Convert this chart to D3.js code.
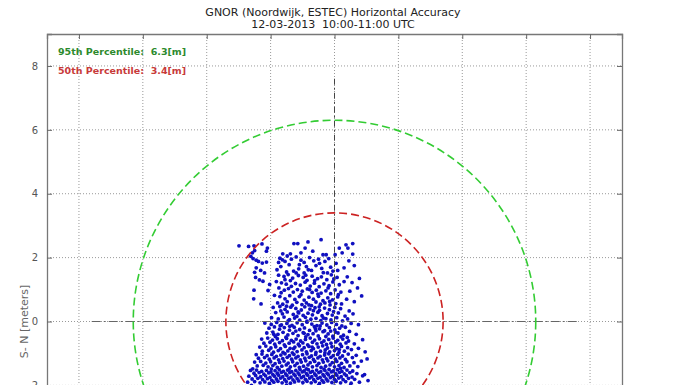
<!DOCTYPE html>
<html>
<head>
<meta charset="utf-8">
<script src="https://cdn.jsdelivr.net/npm/d3@7"></script>
<style>
  body { margin: 0; background: #fff; }
  svg { display: block; }
  text { font-family: "DejaVu Sans", Verdana, sans-serif; }
</style>
</head>
<body>
<div class="main"></div>
<script>
// tick values on both axes (meters)
let tickValues = [-8, -6, -4, -2, 0, 2, 4, 6, 8];

// percentile radii
let percentileNames = ['95th Percentile:', '50th Percentile:'];
let percentileValues = [6.3, 3.4];

let titleLines = ['GNOR (Noordwijk, ESTEC) Horizontal Accuracy', '12-03-2013  10:00-11:00 UTC'];

// position fixes, [W-E, S-N] in meters
let fixes = [
  [-2.99,2.37],[-2.69,2.35],[-2.52,2.37],[-2.27,2.43],[-2.10,2.30],[-2.13,2.20],[-2.50,2.22],[-2.57,2.15],[-1.27,2.44],[-1.15,2.44],
  [-0.83,2.49],[-0.42,2.56],[0.36,2.40],[0.57,2.44],[0.42,2.30],[-0.92,2.30],[-0.36,2.09],[-0.26,2.09],[0.02,2.09],[0.24,2.15],[0.57,2.11],
  [-2.62,2.04],[-2.55,1.97],[-2.45,1.92],[-2.38,1.88],[-2.26,1.83],[-2.13,1.86],[-2.45,1.68],[-2.31,1.60],[-2.50,1.54],[-2.19,1.52],
  [-1.62,2.12],[-1.48,2.05],[-1.71,1.98],[-1.35,1.95],[-1.55,1.88],[-1.20,2.02],[-1.05,1.92],[-1.42,1.78],[-1.68,1.72],[-0.95,1.85],
  [-0.78,2.00],[-0.65,1.90],[-0.50,1.95],[-0.88,1.72],[-0.58,1.75],[-0.30,1.88],[-0.18,1.97],[-1.12,1.65],[-1.28,1.58],[-0.72,1.60],
  [-0.40,1.66],[-0.12,1.70],[-1.50,1.55],[-0.95,1.52],[0.05,1.82],[0.10,1.60],[0.45,1.90],[0.62,1.75],[-1.80,1.62],[-0.22,1.52],[0.30,1.68],
  [-1.63,1.93],[-1.38,2.12],[-1.10,1.78],[-0.82,1.62],[-0.47,1.82],[-0.05,1.58],[-1.75,1.85],[-0.68,2.20],[-1.05,2.15],[0.15,2.30],
  [-2.47,1.38],[-2.24,1.26],[-2.03,1.16],[-2.52,0.98],[-2.53,0.71],[-2.08,0.97],[-2.30,0.55],[-2.35,1.30],
  [-1.75,1.45],[-1.58,1.41],[-1.45,1.47],[-1.31,1.36],[-1.13,1.44],[-0.98,1.38],[-0.86,1.29],[-0.70,1.42],[-0.53,1.34],[-0.41,1.40],[-0.24,1.31],[-0.10,1.46],[0.08,1.38],
  [-1.82,1.25],[-1.66,1.21],[-1.51,1.17],[-1.38,1.28],[-1.22,1.19],[-1.07,1.14],[-0.92,1.23],[-0.76,1.11],[-0.63,1.20],[-0.48,1.09],[-0.33,1.18],[-0.17,1.12],[-0.05,1.24],[0.15,1.15],
  [-1.55,1.31],[-1.20,1.52],[-0.90,1.45],[-0.62,1.28],[-0.35,1.53],[-0.02,1.33],
  [-1.74,1.05],[-1.57,0.98],[-1.44,1.03],[-1.29,0.92],[-1.16,1.00],[-1.01,0.95],[-0.85,1.02],[-0.70,0.91],[-0.57,0.98],[-0.42,0.89],[-0.27,0.96],[-0.12,0.87],[0.02,0.99],[0.20,0.92],
  [-1.67,0.90],[-1.35,1.10],[-1.05,0.84],[-0.78,1.00],[-0.52,0.86],[-0.20,1.05],[0.12,0.84],
  [-1.88,0.82],[-1.71,0.78],[-1.55,0.71],[-1.40,0.81],[-1.24,0.69],[-1.10,0.78],[-0.95,0.67],[-0.80,0.76],[-0.66,0.70],[-0.50,0.79],[-0.36,0.65],[-0.21,0.74],[-0.06,0.68],[0.10,0.77],
  [-1.78,0.58],[-1.62,0.54],[-1.48,0.62],[-1.32,0.51],[-1.18,0.60],[-1.02,0.53],[-0.88,0.58],[-0.72,0.50],[-0.58,0.61],[-0.44,0.54],[-0.30,0.58],[-0.14,0.52],[0.04,0.56],
  [0.40,1.40],[0.55,1.22],[0.72,1.05],[0.48,0.95],[0.85,0.80],[0.38,0.70],[0.62,0.62],[0.30,1.25],[0.78,1.35],
  [-1.92,0.44],[-1.71,0.47],[-1.55,0.38],[-1.37,0.45],[-1.21,0.41],[-1.04,0.36],[-0.93,0.46],[-0.77,0.39],[-0.61,0.43],[-0.47,0.35],[-0.31,0.42],[-0.16,0.37],[0.01,0.44],[0.19,0.40],[0.46,0.33],
  [-1.50,0.48],[-1.14,0.30],[-0.80,0.52],[-0.48,0.46],[-0.15,0.63],[0.22,0.55],
  [-1.84,0.28],[-1.63,0.24],[-1.48,0.30],[-1.29,0.22],[-1.12,0.27],[-0.98,0.19],[-0.83,0.26],[-0.69,0.21],[-0.52,0.29],[-0.39,0.18],[-0.22,0.25],[-0.07,0.20],[0.12,0.27],[0.33,0.17],[0.58,0.24],
  [-1.97,0.12],[-1.76,0.08],[-1.58,0.14],[-1.41,0.06],[-1.25,0.11],[-1.09,0.04],[-0.91,0.13],[-0.74,0.07],[-0.58,0.10],[-0.43,0.03],[-0.27,0.09],[-0.11,0.05],[0.07,0.12],[0.25,0.02],[0.41,0.08],
  [-1.68,0.33],[-1.18,0.16],[-0.66,0.34],[-0.35,0.11],[-0.03,0.31],[-1.45,0.02],[-0.86,0.01],
  [-2.18,-0.05],[-1.98,-0.09],[-1.81,-0.03],[-1.66,-0.11],[-1.49,-0.06],[-1.33,-0.12],[-1.17,-0.04],[-1.01,-0.10],[-0.86,-0.02],[-0.71,-0.08],[-0.55,-0.13],[-0.39,-0.05],[-0.24,-0.11],[-0.09,-0.03],[0.06,-0.09],[0.23,-0.14],[0.52,-0.06],[0.75,-0.10],
  [-2.05,-0.21],[-1.88,-0.17],[-1.72,-0.24],[-1.57,-0.19],[-1.41,-0.27],[-1.26,-0.18],[-1.09,-0.25],[-0.94,-0.20],[-0.78,-0.28],[-0.63,-0.16],[-0.47,-0.23],[-0.31,-0.29],[-0.16,-0.19],[0.01,-0.26],[0.16,-0.21],[0.34,-0.18],
  [-2.12,-0.36],[-1.93,-0.33],[-1.77,-0.40],[-1.61,-0.34],[-1.46,-0.42],[-1.30,-0.37],[-1.14,-0.44],[-0.98,-0.35],[-0.83,-0.41],[-0.67,-0.38],[-0.51,-0.45],[-0.36,-0.32],[-0.20,-0.39],[-0.05,-0.46],[0.11,-0.36],[0.28,-0.43],[0.47,-0.31],[0.68,-0.40],
  [-1.85,-0.47],[-1.52,-0.49],[-1.21,-0.30],[-0.90,-0.48],[-0.58,-0.29],[-0.27,-0.47],[0.03,-0.33],[0.20,-0.48],[-1.70,-0.13],[-0.45,-0.14],
  [-1.90,-0.40],[-1.40,-0.15],[-0.95,-0.37],[-0.60,-0.22],[-0.12,-0.30],[0.40,-0.50],
  [-2.28,-0.55],[-2.09,-0.52],[-1.94,-0.58],[-1.79,-0.54],[-1.63,-0.60],[-1.50,-0.53],[-1.35,-0.59],[-1.20,-0.55],[-1.06,-0.61],[-0.91,-0.56],[-0.76,-0.52],[-0.62,-0.58],[-0.47,-0.54],[-0.33,-0.61],[-0.18,-0.56],[-0.04,-0.52],[0.10,-0.59],[0.26,-0.55],[0.44,-0.61],[0.88,-0.57],
  [-2.21,-0.68],[-2.02,-0.65],[-1.87,-0.71],[-1.72,-0.66],[-1.57,-0.73],[-1.42,-0.68],[-1.28,-0.64],[-1.13,-0.71],[-0.99,-0.67],[-0.84,-0.73],[-0.69,-0.65],[-0.55,-0.70],[-0.40,-0.66],[-0.25,-0.72],[-0.11,-0.68],[0.04,-0.64],[0.18,-0.71],[0.36,-0.67],[0.62,-0.70],
  [-2.34,-0.80],[-2.15,-0.77],[-1.99,-0.83],[-1.84,-0.79],[-1.69,-0.85],[-1.54,-0.78],[-1.39,-0.84],[-1.24,-0.80],[-1.10,-0.76],[-0.95,-0.82],[-0.80,-0.78],[-0.66,-0.85],[-0.51,-0.80],[-0.37,-0.76],[-0.22,-0.83],[-0.08,-0.79],[0.07,-0.85],[0.22,-0.78],[0.41,-0.82],[0.75,-0.84],
  [-1.28,-0.85],[-0.70,-0.80],[-0.30,-0.98],[0.15,-0.88],
  [-2.26,-0.93],[-2.06,-0.90],[-1.91,-0.96],[-1.76,-0.91],[-1.61,-0.97],[-1.46,-0.92],[-1.32,-0.98],[-1.17,-0.94],[-1.02,-0.89],[-0.88,-0.95],[-0.73,-0.91],[-0.58,-0.97],[-0.44,-0.93],[-0.29,-0.89],[-0.15,-0.95],[0.00,-0.91],[0.14,-0.97],[0.31,-0.93],[0.53,-0.88],[0.96,-0.95],
  [-2.45,-1.04],[-2.27,-1.02],[-2.11,-1.07],[-1.96,-1.03],[-1.82,-1.09],[-1.68,-1.05],[-1.55,-1.01],[-1.41,-1.07],[-1.27,-1.03],[-1.14,-1.09],[-1.00,-1.04],[-0.86,-1.01],[-0.72,-1.08],[-0.59,-1.03],[-0.45,-1.09],[-0.31,-1.05],[-0.18,-1.01],[-0.04,-1.07],[0.10,-1.03],[0.25,-1.08],[0.43,-1.02],[0.68,-1.06],
  [-2.38,-1.15],[-2.19,-1.13],[-2.04,-1.18],[-1.89,-1.14],[-1.75,-1.20],[-1.62,-1.16],[-1.48,-1.12],[-1.34,-1.18],[-1.21,-1.14],[-1.07,-1.20],[-0.93,-1.15],[-0.79,-1.12],[-0.66,-1.19],[-0.52,-1.14],[-0.38,-1.20],[-0.25,-1.16],[-0.11,-1.12],[0.03,-1.18],[0.17,-1.14],[0.34,-1.19],[0.56,-1.13],[1.02,-1.17],
  [-2.50,-1.27],[-2.31,-1.25],[-2.15,-1.30],[-2.00,-1.26],[-1.86,-1.32],[-1.72,-1.28],[-1.58,-1.24],[-1.45,-1.30],[-1.31,-1.26],[-1.17,-1.31],[-1.04,-1.27],[-0.90,-1.23],[-0.76,-1.29],[-0.62,-1.25],[-0.49,-1.31],[-0.35,-1.27],[-0.21,-1.23],[-0.07,-1.29],[0.07,-1.25],[0.22,-1.31],[0.39,-1.26],[0.61,-1.29],[0.84,-1.24],
  [-2.42,-1.39],[-2.23,-1.37],[-2.08,-1.42],[-1.93,-1.38],[-1.79,-1.44],[-1.65,-1.40],[-1.51,-1.36],[-1.38,-1.42],[-1.24,-1.38],[-1.10,-1.44],[-0.97,-1.40],[-0.83,-1.36],[-0.69,-1.42],[-0.55,-1.38],[-0.42,-1.44],[-0.28,-1.40],[-0.14,-1.36],[0.00,-1.42],[0.14,-1.38],[0.30,-1.44],[0.48,-1.39],[0.73,-1.41],
  [-2.56,-1.48],[-1.98,-1.49],[-1.42,-1.49],[-0.88,-1.48],[-0.33,-1.49],[0.19,-1.47],
  [-2.63,-1.53],[-2.44,-1.52],[-2.28,-1.56],[-2.13,-1.53],[-1.99,-1.58],[-1.86,-1.54],[-1.73,-1.51],[-1.60,-1.56],[-1.47,-1.52],[-1.34,-1.57],[-1.21,-1.53],[-1.08,-1.50],[-0.95,-1.55],[-0.82,-1.51],[-0.69,-1.56],[-0.56,-1.52],[-0.43,-1.57],[-0.30,-1.53],[-0.17,-1.50],[-0.04,-1.55],[0.09,-1.51],[0.23,-1.56],[0.39,-1.52],[0.57,-1.55],[0.94,-1.66],
  [-2.52,-1.62],[-2.36,-1.60],[-2.21,-1.65],[-2.06,-1.61],[-1.93,-1.66],[-1.79,-1.62],[-1.66,-1.59],[-1.53,-1.64],[-1.40,-1.60],[-1.27,-1.65],[-1.14,-1.61],[-1.01,-1.58],[-0.88,-1.63],[-0.75,-1.59],[-0.62,-1.64],[-0.49,-1.60],[-0.36,-1.66],[-0.23,-1.62],[-0.10,-1.58],[0.03,-1.63],[0.16,-1.59],[0.31,-1.64],[0.48,-1.60],[0.70,-1.63],
  [-2.68,-1.71],[-2.47,-1.69],[-2.31,-1.73],[-2.16,-1.70],[-2.02,-1.75],[-1.88,-1.71],[-1.75,-1.68],[-1.62,-1.73],[-1.49,-1.69],[-1.36,-1.74],[-1.23,-1.70],[-1.10,-1.67],[-0.97,-1.72],[-0.84,-1.68],[-0.71,-1.73],[-0.58,-1.69],[-0.45,-1.75],[-0.32,-1.71],[-0.19,-1.67],[-0.06,-1.72],[0.07,-1.68],[0.21,-1.73],[0.37,-1.69],[0.55,-1.74],[0.88,-1.70],
  [-2.58,-1.80],[-2.40,-1.78],[-2.25,-1.82],[-2.10,-1.79],[-1.96,-1.84],[-1.82,-1.80],[-1.69,-1.77],[-1.56,-1.82],[-1.43,-1.78],[-1.30,-1.83],[-1.17,-1.79],[-1.04,-1.76],[-0.91,-1.81],[-0.78,-1.77],[-0.65,-1.82],[-0.52,-1.78],[-0.39,-1.84],[-0.26,-1.80],[-0.13,-1.76],[0.00,-1.81],[0.13,-1.77],[0.27,-1.82],[0.44,-1.78],[0.63,-1.81],[1.05,-1.85],
  [-2.72,-1.90],[-2.50,-1.88],[-2.33,-1.92],[-2.18,-1.89],[-2.04,-1.94],[-1.90,-1.90],[-1.77,-1.87],[-1.64,-1.92],[-1.51,-1.88],[-1.38,-1.93],[-1.25,-1.89],[-1.12,-1.86],[-0.99,-1.91],[-0.86,-1.87],[-0.73,-1.92],[-0.60,-1.88],[-0.47,-1.94],[-0.34,-1.90],[-0.21,-1.86],[-0.08,-1.91],[0.05,-1.87],[0.19,-1.92],[0.35,-1.88],[0.52,-1.93],[0.78,-1.90],
  [-2.60,-2.00],[-2.00,-2.02],[-1.50,-1.99],[-1.00,-2.03],[-0.50,-2.00],[0.00,-2.02],[0.50,-2.01]
];

let opts = { width: 674, height: 385, left: 47, right: 622, top: 34 };
let colors = ['#33cc33', '#cc2222'];
let textColors = ['#2d8a2d', '#c83a3a'];

let svg = d3.select('.main').append('svg')
  .attr('width', opts.width)
  .attr('height', opts.height);

// equal aspect: same pixels per meter on both axes
let x = d3.scaleLinear().domain([-9, 9]).range([opts.left, opts.right]);
let pxPerUnit = (opts.right - opts.left) / 18;
let y = d3.scaleLinear().domain([-9, 9]).range([opts.top + 18 * pxPerUnit, opts.top]);

// grid
svg.append('g').selectAll('line.gx').data(tickValues).enter().append('line')
  .attr('x1', d => x(d)).attr('x2', d => x(d))
  .attr('y1', y(9)).attr('y2', y(-9))
  .attr('stroke', '#999').attr('stroke-width', 1).attr('stroke-dasharray', '1,2');
svg.append('g').selectAll('line.gy').data(tickValues).enter().append('line')
  .attr('y1', d => y(d)).attr('y2', d => y(d))
  .attr('x1', x(-9)).attr('x2', x(9))
  .attr('stroke', '#999').attr('stroke-width', 1).attr('stroke-dasharray', '1,2');

// axes with inward ticks; only the labels that fall inside the picture
let visibleY = tickValues.filter(d => y(d) < opts.height + 6);
svg.append('g').attr('transform', `translate(${opts.left},0)`)
  .call(d3.axisLeft(y).tickValues(tickValues).tickSize(-5).tickPadding(9)
    .tickFormat(d => visibleY.includes(d) ? d3.format('d')(d) : ''));
svg.append('g').attr('transform', `translate(${opts.right},0)`)
  .call(d3.axisRight(y).tickValues(tickValues).tickSize(-5).tickFormat(''));
svg.append('g').attr('transform', `translate(0,${opts.top})`)
  .call(d3.axisTop(x).tickValues(tickValues).tickSize(-5).tickFormat(''));
svg.append('g').attr('transform', `translate(0,${y(-9)})`)
  .call(d3.axisBottom(x).tickValues(tickValues).tickSize(-5).tickFormat(''));

svg.selectAll('.domain').attr('stroke', '#777').attr('stroke-width', 1.3);
svg.selectAll('.tick line').attr('stroke', '#666');
svg.selectAll('.tick text').attr('fill', '#555').style('font-size', '10px');
svg.selectAll('.tick text').filter(function() { return this.textContent === ''; }).remove();

// scatter
svg.append('g').selectAll('circle').data(fixes).enter().append('circle')
  .attr('cx', d => x(d[0]))
  .attr('cy', d => y(d[1]))
  .attr('r', 1.9)
  .attr('fill', '#1010c0');

// cross hair lines through origin
let crossExtent = 7.6;
svg.append('line')
  .attr('x1', x(-crossExtent)).attr('x2', x(crossExtent))
  .attr('y1', y(0)).attr('y2', y(0))
  .attr('stroke', '#666').attr('stroke-width', 1.2).attr('stroke-dasharray', '9,3,2,3');
svg.append('line')
  .attr('x1', x(0)).attr('x2', x(0))
  .attr('y1', y(crossExtent)).attr('y2', y(-crossExtent))
  .attr('stroke', '#444').attr('stroke-width', 1).attr('stroke-dasharray', '6,3,2,3');

// percentile circles
svg.append('g').selectAll('circle').data(percentileValues).enter().append('circle')
  .attr('cx', x(0))
  .attr('cy', y(0))
  .attr('r', d => x(d) - x(0))
  .attr('fill', 'none')
  .attr('stroke', (d, i) => colors[i])
  .attr('stroke-width', 1.6)
  .attr('stroke-dasharray', '8,4');

// percentile labels
svg.append('g').selectAll('text').data(percentileNames).enter().append('text')
  .attr('x', 58)
  .attr('y', (d, i) => 55 + i * 19)
  .attr('fill', (d, i) => textColors[i])
  .style('font-size', '9.5px')
  .style('font-weight', 'bold')
  .style('white-space', 'pre')
  .text((d, i) => `${d}  ${percentileValues[i]}[m]`);

// title
svg.append('g').selectAll('text').data(titleLines).enter().append('text')
  .attr('x', 333)
  .attr('y', (d, i) => 16 + i * 12)
  .attr('text-anchor', 'middle')
  .attr('fill', '#222')
  .style('font-size', '11px')
  .style('white-space', 'pre')
  .text(d => d);

// y label
svg.append('text')
  .attr('transform', `translate(28,${y(0)}) rotate(-90)`)
  .attr('text-anchor', 'middle')
  .attr('fill', '#666')
  .style('font-size', '11px')
  .text('S- N [meters]');
</script>
</body>
</html>
